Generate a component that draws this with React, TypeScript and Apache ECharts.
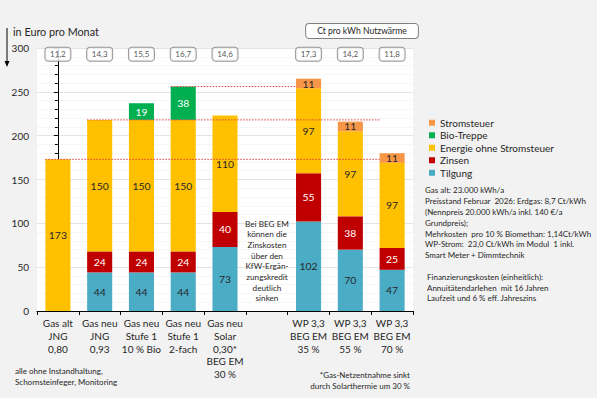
import React, { useEffect, useRef } from "react";
import * as echarts from "echarts";

const categories = [
  "Gas alt\nJNG\n0,80",
  "Gas neu\nJNG\n0,93",
  "Gas neu\nStufe 1\n10 % Bio",
  "Gas neu\nStufe 1\n2-fach",
  "Gas neu\nSolar\n0,30*\nBEG EM\n30 %",
  "",
  "WP 3,3\nBEG EM\n35 %",
  "WP 3,3\nBEG EM\n55 %",
  "WP 3,3\nBEG EM\n70 %",
];
const tilgung = [null, 44, 44, 44, 73, null, 102, 70, 47];
const zinsen = [null, 24, 24, 24, 40, null, 55, 38, 25];
const energie = [173, 150, 150, 150, 110, null, 97, 97, 97];
const bioTreppe = [null, null, 19, 38, null, null, null, null, null];
const stromsteuer = [null, null, null, null, null, null, 11, 11, 11];
const ctProKwh = ["11,2", "14,3", "15,5", "16,7", "14,6", "", "17,3", "14,2", "11,8"];
const boxLevel = 293;
const refLevels = [173, 218, 256];
const refFrom = [0, 1, 3];
const refTo = [8, 8, 6];
const yTicks = { min: 0, max: 300, interval: 50 };

const FONT = 'Lato, "Open Sans", sans-serif';
const TXT = "#262626";

export default function App() {
  const ref = useRef<HTMLDivElement>(null);
  useEffect(() => {
    if (!ref.current) return;
    const chart = echarts.init(ref.current, null, { renderer: "svg" });
    const half = 0.3;
    const barLabel = (color: string) => ({
      show: true,
      position: "inside",
      color,
      fontSize: 10.4,
      fontFamily: FONT,
      formatter: (p: any) => (p.value == null ? "" : String(p.value)),
    });
    const mkBar = (name: string, data: any[], color: string, lblColor: string) => ({
      name,
      type: "bar",
      stack: "t",
      barWidth: "60%",
      data,
      itemStyle: { color },
      label: barLabel(lblColor),
      z: 2,
    });
    const refSeries = refLevels.map((lv, i) => ({
      name: "ref" + i,
      type: "line",
      xAxisIndex: 1,
      yAxisIndex: 0,
      symbol: "none",
      silent: true,
      z: 5,
      lineStyle: { color: "#e04040", width: 1, type: [1.5, 1.5] },
      data: [
        [refFrom[i] - half, lv],
        [refTo[i] - half, lv],
      ],
    }));
    chart.setOption({
      animation: false,
      backgroundColor: "#f2f2f2",
      textStyle: { fontFamily: FONT },
      grid: {
        left: 37,
        right: 184,
        top: 48,
        bottom: 87,
        show: true,
        backgroundColor: "#ffffff",
        borderWidth: 0,
      },
      legend: {
        data: ["Stromsteuer", "Bio-Treppe", "Energie ohne Stromsteuer", "Zinsen", "Tilgung"],
        orient: "vertical",
        left: 424,
        top: 111.5,
        itemWidth: 6,
        itemHeight: 6,
        itemGap: 0,
        icon: "rect",
        textStyle: { fontSize: 10, lineHeight: 12.5, color: TXT, fontFamily: FONT },
      },
      xAxis: [
        {
          type: "category",
          data: categories,
          axisLine: { lineStyle: { color: "#000", width: 1 } },
          axisTick: { show: true, length: 4, lineStyle: { color: "#000" } },
          axisLabel: {
            interval: 0,
            color: TXT,
            fontSize: 10,
            lineHeight: 12.7,
            margin: 6,
            fontFamily: FONT,
          },
        },
        {
          type: "value",
          min: -0.5,
          max: 8.5,
          show: false,
        },
      ],
      yAxis: {
        type: "value",
        min: yTicks.min,
        max: yTicks.max,
        interval: yTicks.interval,
        axisLine: { show: true, lineStyle: { color: "#000", width: 1 } },
        axisTick: { show: true, length: 4, lineStyle: { color: "#000" } },
        minorTick: { show: true, splitNumber: 5, length: 3, lineStyle: { color: "#000" } },
        splitLine: { show: true, lineStyle: { color: "#e4e4e4", width: 1 } },
        minorSplitLine: { show: true, lineStyle: { color: "#f6f6f6", width: 1 } },
        axisLabel: { color: TXT, fontSize: 10, margin: 8, fontFamily: FONT },
      },
      series: [
        mkBar("Tilgung", tilgung, "#4bacc6", TXT),
        mkBar("Zinsen", zinsen, "#c00000", "#ffffff"),
        mkBar("Energie ohne Stromsteuer", energie, "#ffc000", TXT),
        mkBar("Bio-Treppe", bioTreppe, "#00b050", "#ffffff"),
        mkBar("Stromsteuer", stromsteuer, "#f79646", TXT),
        ...refSeries,
        {
          name: "ct",
          type: "scatter",
          symbolSize: 0,
          z: 6,
          data: ctProKwh.map((v) => (v === "" ? null : boxLevel)),
          label: {
            show: true,
            position: "inside",
            formatter: (p: any) => ctProKwh[p.dataIndex],
            color: TXT,
            fontSize: 8,
            fontFamily: FONT,
            backgroundColor: "#ffffff",
            borderColor: "#808080",
            borderWidth: 1,
            borderRadius: 3,
            padding: [3, 5, 2, 5],
            width: 15,
            align: "center",
          },
        },
      ],
      graphic: [
        {
          type: "line",
          shape: { x1: 7, y1: 28, x2: 7, y2: 62 },
          style: { stroke: "#000", lineWidth: 1 },
        },
        {
          type: "polygon",
          shape: { points: [[4.5, 61], [9.5, 61], [7, 67]] },
          style: { fill: "#000" },
        },
        {
          type: "text",
          x: 13,
          y: 31,
          style: {
            text: "in Euro pro Monat",
            font: `10.8px ${FONT}`,
            fill: TXT,
            verticalAlign: "middle",
          },
        },
        {
          type: "text",
          x: 362,
          y: 31,
          style: {
            text: "Ct pro kWh Nutzwärme",
            font: `8.6px ${FONT}`,
            fill: TXT,
            align: "center",
            verticalAlign: "middle",
            backgroundColor: "#ffffff",
            borderColor: "#808080",
            borderWidth: 1,
            borderRadius: 3,
            padding: [3, 11, 2, 11],
          },
        },
        {
          type: "text",
          x: 267,
          y: 261,
          z: 10,
          style: {
            text: "Bei BEG EM\nkönnen die\nZinskosten\nüber den\nKfW-Ergän-\nzungskredit\ndeutlich\nsinken",
            font: `8.2px ${FONT}`,
            lineHeight: 10.7,
            fill: TXT,
            align: "center",
            verticalAlign: "middle",
          },
        },
        {
          type: "text",
          x: 425,
          y: 184.5,
          style: {
            text:
              "Gas alt: 23.000 kWh/a\nPreisstand Februar  2026: Erdgas: 8,7 Ct/kWh\n(Nennpreis 20.000 kWh/a inkl. 140 €/a\nGrundpreis);\nMehrkosten  pro 10 % Biomethan: 1,14Ct/kWh\nWP-Strom:  23,0 Ct/kWh im Modul  1 inkl.\nSmart Meter + Dimmtechnik",
            font: `8px ${FONT}`,
            lineHeight: 10.9,
            fill: TXT,
          },
        },
        {
          type: "text",
          x: 427,
          y: 271.2,
          style: {
            text:
              "Finanzierungskosten (einheitlich):\nAnnuitätendarlehen  mit 16 Jahren\nLaufzeit und 6 % eff. Jahreszins",
            font: `8px ${FONT}`,
            lineHeight: 10.9,
            fill: TXT,
          },
        },
        {
          type: "text",
          x: 15,
          y: 365.2,
          style: {
            text: "alle ohne Instandhaltung,\nSchornsteinfeger, Monitoring",
            font: `8px ${FONT}`,
            lineHeight: 11,
            fill: TXT,
          },
        },
        {
          type: "text",
          x: 410,
          y: 369.5,
          style: {
            text: "*Gas-Netzentnahme sinkt\ndurch Solarthermie um 30 %",
            font: `8px ${FONT}`,
            lineHeight: 11,
            fill: TXT,
            align: "right",
          },
        },
      ],
    });
    return () => chart.dispose();
  }, []);
  return (
    <div
      ref={ref}
      style={{ position: "fixed", left: 0, top: 0, width: 597, height: 398 }}
    />
  );
}
